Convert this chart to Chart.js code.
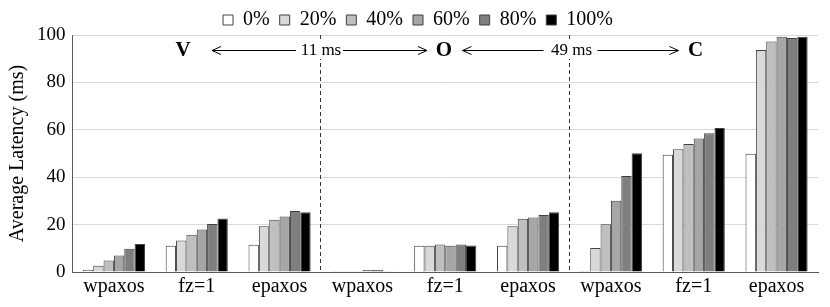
<!DOCTYPE html>
<html>
<head>
<meta charset="utf-8">
<script src="https://cdn.jsdelivr.net/npm/chart.js@4/dist/chart.umd.min.js"></script>
<style>
  html, body { margin: 0; padding: 0; background: #fff; }
  #wrap { position: relative; width: 830px; height: 307px; }
</style>
</head>
<body>
<div id="wrap"><canvas id="chart"></canvas></div>
<script>
// 카테고리 / 시리즈 데이터
const categories = ["wpaxos", "fz=1", "epaxos", "wpaxos", "fz=1", "epaxos", "wpaxos", "fz=1", "epaxos"];
const seriesNames = ["0%", "20%", "40%", "60%", "80%", "100%"];
const s0 = [0.9, 11.1, 11.5, 0.3, 11.1, 11.1, 0.4, 49.5, 49.9];
const s20 = [2.6, 13.3, 19.3, 0.3, 11.1, 19.3, 10.1, 51.8, 93.7];
const s40 = [4.8, 15.7, 22.0, 0.3, 11.6, 22.5, 20.1, 54.0, 97.3];
const s60 = [7.0, 17.9, 23.4, 0.8, 11.1, 23.0, 30.1, 56.3, 99.3];
const s80 = [9.8, 20.3, 25.7, 0.8, 11.6, 24.0, 40.5, 58.5, 98.7];
const s100 = [11.8, 22.6, 25.2, 0.3, 11.2, 25.2, 50.1, 60.8, 99.3];
const yTicks = [0, 20, 40, 60, 80, 100];
const fills = ["#ffffff", "#d9d9d9", "#bfbfbf", "#a6a6a6", "#7f7f7f", "#000000"];

const serif = "'Liberation Serif', 'Times New Roman', serif";

// 범례 높이를 줄이고 살짝 오른쪽으로 이동
const legendTweak = {
  id: "legendTweak",
  afterInit(chart) {
    const lg = chart.legend;
    const fit = lg.fit.bind(lg);
    lg.fit = function () {
      fit();
      this.height -= 5;
    };
  },
  afterLayout(chart) {
    chart.legend.left += 12;
  }
};

// 점선 + 주석 (V ← 11 ms → O ← 49 ms → C)
const regionPlugin = {
  id: "regions",
  afterDatasetsDraw(chart) {
    const { ctx, scales } = chart;
    const x = scales.x, y = scales.y;
    const d1 = (x.getPixelForValue(2) + x.getPixelForValue(3)) / 2;
    const d2 = (x.getPixelForValue(5) + x.getPixelForValue(6)) / 2;
    const top = y.getPixelForValue(100);
    const bottom = y.getPixelForValue(0);
    const ty = Math.round(y.getPixelForValue(93.6));

    ctx.save();
    ctx.strokeStyle = "#333";
    ctx.lineWidth = 1;
    ctx.setLineDash([4, 3]);
    [d1, d2].forEach(px => {
      ctx.beginPath();
      ctx.moveTo(Math.round(px) - 0.5, top);
      ctx.lineTo(Math.round(px) - 0.5, bottom);
      ctx.stroke();
    });
    ctx.setLineDash([]);

    const label = (txt, cx, font) => {
      ctx.font = font;
      const w = ctx.measureText(txt).width;
      ctx.fillStyle = "#fff";
      ctx.fillRect(cx - w / 2 - 1, ty - 9, w + 2, 18);
      ctx.fillStyle = "#000";
      ctx.textAlign = "center";
      ctx.textBaseline = "middle";
      ctx.fillText(txt, cx, ty + 1);
    };
    const arrow = (x1, x2, head) => {
      ctx.strokeStyle = "#000";
      ctx.lineWidth = 1;
      ctx.beginPath();
      ctx.moveTo(x1, ty + 0.5);
      ctx.lineTo(x2, ty + 0.5);
      ctx.stroke();
      const hx = head === "left" ? x1 : x2;
      const dir = head === "left" ? 1 : -1;
      ctx.beginPath();
      ctx.moveTo(hx + dir * 9, ty - 3.5);
      ctx.lineTo(hx, ty + 0.5);
      ctx.lineTo(hx + dir * 9, ty + 4.5);
      ctx.stroke();
    };

    const bold = "bold 21px " + serif;
    const small = "17px " + serif;
    label("V", d1 - 138, bold);
    label("O", d1 + 123, bold);
    label("C", d2 + 126, bold);
    arrow(d1 - 109, d1 - 25, "left");
    arrow(d1 + 22, d1 + 106, "right");
    arrow(d2 - 107, d2 - 26, "left");
    arrow(d2 + 28, d2 + 109, "right");
    label("11 ms", d1, small);
    label("49 ms", d2 + 2, small);
    ctx.restore();
  }
};

const allSeries = [s0, s20, s40, s60, s80, s100];

new Chart(document.getElementById("chart").getContext("2d"), {
  type: "bar",
  data: {
    labels: categories,
    datasets: allSeries.map((vals, i) => ({
      label: seriesNames[i],
      data: vals,
      backgroundColor: fills[i],
      borderColor: "#404040",
      borderWidth: 1,
      categoryPercentage: 0.75,
      barPercentage: 1.0
    }))
  },
  options: {
    responsive: true,
    maintainAspectRatio: false,
    animation: false,
    layout: { padding: { left: 6, right: 12, top: 0, bottom: 5 } },
    plugins: {
      legend: {
        position: "top",
        labels: {
          color: "#000",
          boxWidth: 10,
          boxHeight: 10,
          padding: 10,
          font: { family: serif, size: 20 }
        }
      },
      tooltip: { enabled: false }
    },
    scales: {
      x: {
        grid: { display: false, drawTicks: false },
        border: { color: "#595959", width: 1 },
        ticks: { color: "#000", font: { family: serif, size: 20 }, padding: 3, maxRotation: 0, autoSkip: false }
      },
      y: {
        min: 0,
        max: 100,
        afterBuildTicks: axis => { axis.ticks = yTicks.map(v => ({ value: v })); },
        grid: { color: "#d9d9d9", drawTicks: false },
        border: { color: "#595959", width: 1 },
        ticks: { color: "#000", font: { family: serif, size: 19 }, padding: 7 },
        title: { display: true, text: "Average Latency (ms)", color: "#000", font: { family: serif, size: 20 }, padding: 0 }
      }
    }
  },
  plugins: [legendTweak, regionPlugin]
});
</script>
</body>
</html>
